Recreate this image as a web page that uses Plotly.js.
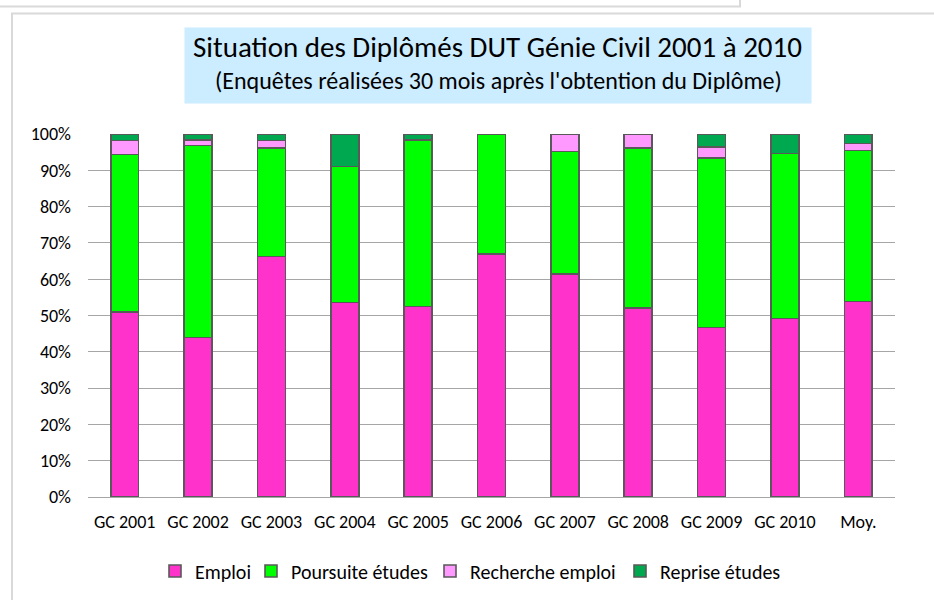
<!DOCTYPE html>
<html>
<head>
<meta charset="utf-8">
<script src="https://cdn.plot.ly/plotly-3.0.1.min.js"></script>
<style>html,body{margin:0;padding:0;background:#fff;}#chart{width:934px;height:600px;}</style>
</head>
<body>
<div id="chart"></div>
<script>
const categories = ["GC 2001","GC 2002","GC 2003","GC 2004","GC 2005","GC 2006","GC 2007","GC 2008","GC 2009","GC 2010","Moy."];
const emploi     = [50.9, 43.9, 66.3, 53.6, 52.5, 67.0, 61.4, 52.0, 46.7, 49.2, 53.9];
const poursuite  = [43.5, 52.9, 29.9, 37.4, 45.8, 33.0, 33.8, 44.2, 46.7, 45.4, 41.6];
const recherche  = [3.8, 1.6, 2.0, 0, 0, 0, 4.8, 3.8, 3.1, 0, 1.9];
const reprise    = [1.8, 1.6, 1.8, 9.0, 1.7, 0, 0, 0, 3.5, 5.4, 2.6];
const seriesNames = ["Emploi","Poursuite études","Recherche emploi","Reprise études"];
const seriesColors = ["#FF33CC","#00FF00","#FF99FF","#00A84F"];
const seriesValues = [emploi, poursuite, recherche, reprise];
const yTickVals = [0,10,20,30,40,50,60,70,80,90,100];
const yTickText = yTickVals.map(v => v + "%");

const FONT = "Carlito, 'Liberation Sans Narrow', 'Noto Sans', sans-serif";
const legendIds = ["legend","legend2","legend3","legend4"];

const traces = seriesValues.map((vals, i) => ({
  type: "bar",
  name: seriesNames[i],
  x: categories,
  y: vals,
  legend: legendIds[i],
  marker: {color: seriesColors[i], line: {color: "#595959", width: 1.6}},
  hoverinfo: "x+y+name"
}));

const W = 934, H = 600;
const L = 88, R = 895, T = 134.4, B = 497.4;
const px = v => (v - L) / (R - L);
const py = v => (B - v) / (B - T);

const legendMarkerX = [175, 271, 450, 640];
const layout = {
  width: W, height: H,
  margin: {l: L, r: W - R, t: T, b: H - B},
  paper_bgcolor: "#ffffff",
  plot_bgcolor: "#ffffff",
  barmode: "stack",
  bargap: 0.62,
  font: {family: FONT, size: 17, color: "#000"},
  showlegend: true,
  xaxis: {
    type: "category", showgrid: false, zeroline: false, showline: false,
    ticks: "", ticklabelstandoff: 12,
    tickfont: {family: FONT, size: 18, color: "#000"}
  },
  yaxis: {
    range: [0, 100], tickvals: yTickVals, ticktext: yTickText,
    showgrid: true, gridcolor: "#A6A6A6", gridwidth: 1,
    zeroline: true, zerolinecolor: "#A6A6A6", zerolinewidth: 1,
    showline: false, ticks: "", ticklabelstandoff: 16,
    tickfont: {family: FONT, size: 18, color: "#000"}
  },
  annotations: [
    {xref: "paper", yref: "paper", x: px(498), y: py(66), xanchor: "center", yanchor: "middle",
     showarrow: false, bgcolor: "#CCECFF", width: 624, height: 73, text: " ",
     font: {family: FONT, size: 10}},
    {xref: "paper", yref: "paper", x: px(497), y: py(47), xanchor: "center", yanchor: "middle",
     showarrow: false, text: "Situation des Diplômés DUT Génie Civil 2001 à 2010",
     font: {family: FONT, size: 29, color: "#000"}},
    {xref: "paper", yref: "paper", x: px(498), y: py(81), xanchor: "center", yanchor: "middle",
     showarrow: false, text: "(Enquêtes réalisées 30 mois après l'obtention du Diplôme)",
     font: {family: FONT, size: 24, color: "#000"}}
  ],
  shapes: [
    {type: "rect", xref: "paper", yref: "paper", x0: px(12), x1: px(960), y0: py(14), y1: py(640),
     line: {color: "#D9D9D9", width: 2}, fillcolor: "rgba(0,0,0,0)", layer: "below"},
    {type: "path", xref: "paper", yref: "paper",
     path: `M ${px(-10)},${py(7)} L ${px(740)},${py(7)} L ${px(740)},${py(-10)}`,
     line: {color: "#D9D9D9", width: 2}, layer: "below"}
  ]
};
legendIds.forEach((id, i) => {
  layout[id] = {
    orientation: "h", xref: "container", yref: "container",
    x: (legendMarkerX[i] - 20) / W, xanchor: "left",
    y: 1 - 571 / H, yanchor: "middle",
    font: {family: FONT, size: 20, color: "#000"},
    bgcolor: "rgba(0,0,0,0)", borderwidth: 0, itemwidth: 30
  };
});

Plotly.newPlot("chart", traces, layout, {displayModeBar: false, staticPlot: true});
</script>
</body>
</html>
